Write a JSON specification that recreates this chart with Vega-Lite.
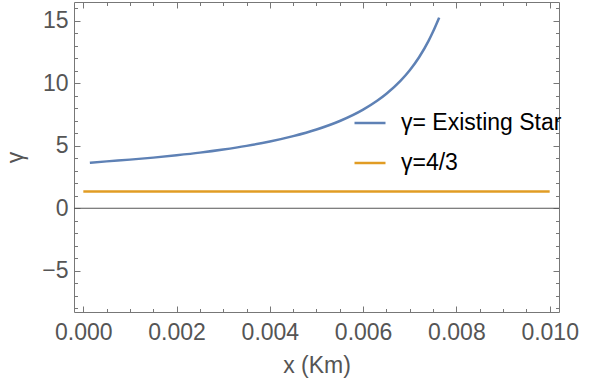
{
  "$schema": "https://vega.github.io/schema/vega-lite/v6.json",
  "width": 485,
  "height": 310,
  "autosize": "none",
  "padding": {"left": 74, "top": 2, "right": 42, "bottom": 71},
  "background": "white",
  "config": {
    "view": {"stroke": null},
    "font": "Liberation Sans",
    "axis": {"grid": false, "domainColor": "#777777", "tickColor": "#777777", "labelColor": "#555555", "titleColor": "#555555", "labelFont": "Liberation Sans", "titleFont": "Liberation Sans", "labelFontSize": 23, "titleFontSize": 23, "titleFontWeight": "normal", "domainWidth": 1, "tickWidth": 1}
  },
  "datasets": {
    "star": [
      {"x": 0.00014, "y": 3.64, "series": "γ= Existing Star"},
      {"x": 0.0005, "y": 3.75, "series": "γ= Existing Star"},
      {"x": 0.001, "y": 3.89, "series": "γ= Existing Star"},
      {"x": 0.0015, "y": 4.05, "series": "γ= Existing Star"},
      {"x": 0.002, "y": 4.24, "series": "γ= Existing Star"},
      {"x": 0.0025, "y": 4.45, "series": "γ= Existing Star"},
      {"x": 0.003, "y": 4.7, "series": "γ= Existing Star"},
      {"x": 0.0035, "y": 4.99, "series": "γ= Existing Star"},
      {"x": 0.004, "y": 5.34, "series": "γ= Existing Star"},
      {"x": 0.0045, "y": 5.77, "series": "γ= Existing Star"},
      {"x": 0.005, "y": 6.3, "series": "γ= Existing Star"},
      {"x": 0.0055, "y": 6.98, "series": "γ= Existing Star"},
      {"x": 0.006, "y": 7.89, "series": "γ= Existing Star"},
      {"x": 0.0063, "y": 8.6, "series": "γ= Existing Star"},
      {"x": 0.0065, "y": 9.16, "series": "γ= Existing Star"},
      {"x": 0.0068, "y": 10.19, "series": "γ= Existing Star"},
      {"x": 0.007, "y": 11.04, "series": "γ= Existing Star"},
      {"x": 0.0072, "y": 12.08, "series": "γ= Existing Star"},
      {"x": 0.0074, "y": 13.37, "series": "γ= Existing Star"},
      {"x": 0.0075, "y": 14.14, "series": "γ= Existing Star"},
      {"x": 0.00763, "y": 15.25, "series": "γ= Existing Star"}
    ],
    "newton": [
      {"x": 0.0, "y": 1.3333, "series": "γ=4/3"},
      {"x": 0.01, "y": 1.3333, "series": "γ=4/3"}
    ],
    "zero": [{"v": 0}]
  },
  "layer": [
    {
      "data": {"name": "star"},
      "mark": {"type": "line", "strokeWidth": 2.5, "interpolate": "monotone"},
      "encoding": {
        "x": {"field": "x", "type": "quantitative", "scale": {"domain": [-0.0002, 0.0102], "nice": false, "zero": false},
          "axis": {"orient": "bottom", "title": "x (Km)", "values": [0,0.0005,0.001,0.0015,0.002,0.0025,0.003,0.0035,0.004,0.0045,0.005,0.0055,0.006,0.0065,0.007,0.0075,0.008,0.0085,0.009,0.0095,0.01],
            "labelExpr": "round(datum.value*2000)%4==0 ? format(datum.value,'.3f') : ''",
            "tickSize": {"condition": {"test": "round(datum.value*2000)%4==0", "value": -6}, "value": -3.5},
            "labelPadding": 15, "titlePadding": 8, "labelFlush": false, "labelOverlap": false}},
        "y": {"field": "y", "type": "quantitative", "scale": {"domain": [-8.3, 16.5], "nice": false, "zero": false},
          "axis": {"orient": "left", "title": "γ", "titleAngle": -90, "values": [-8,-7,-6,-5,-4,-3,-2,-1,0,1,2,3,4,5,6,7,8,9,10,11,12,13,14,15,16],
            "labelExpr": "datum.value%5==0 ? format(datum.value,'d') : ''",
            "tickSize": {"condition": {"test": "datum.value%5==0", "value": -6}, "value": -3.5},
            "labelPadding": 12, "titlePadding": 14, "labelFlush": false, "labelOverlap": false}},
        "color": {"field": "series", "type": "nominal",
          "scale": {"domain": ["γ= Existing Star", "γ=4/3"], "range": ["#5E81B5", "#E19C24"]},
          "legend": {"title": null, "orient": "none", "legendX": 279, "legendY": 104, "padding": 0, "symbolType": "stroke", "symbolSize": 961, "symbolStrokeWidth": 2.5, "labelFontSize": 23, "labelColor": "#000000", "labelFont": "Liberation Sans", "labelOffset": 14, "labelLimit": 400, "rowPadding": 11}}
      }
    },
    {
      "data": {"name": "newton"},
      "mark": {"type": "line", "strokeWidth": 2.5},
      "encoding": {
        "x": {"field": "x", "type": "quantitative", "scale": {"domain": [-0.0002, 0.0102], "nice": false, "zero": false},
          "axis": {"orient": "top", "title": null, "labels": false, "values": [0,0.0005,0.001,0.0015,0.002,0.0025,0.003,0.0035,0.004,0.0045,0.005,0.0055,0.006,0.0065,0.007,0.0075,0.008,0.0085,0.009,0.0095,0.01],
            "tickSize": {"condition": {"test": "round(datum.value*2000)%4==0", "value": -6}, "value": -3.5}}},
        "y": {"field": "y", "type": "quantitative", "scale": {"domain": [-8.3, 16.5], "nice": false, "zero": false},
          "axis": {"orient": "right", "title": null, "labels": false, "values": [-8,-7,-6,-5,-4,-3,-2,-1,0,1,2,3,4,5,6,7,8,9,10,11,12,13,14,15,16],
            "tickSize": {"condition": {"test": "datum.value%5==0", "value": -6}, "value": -3.5}}},
        "color": {"field": "series", "type": "nominal"}
      }
    },
    {
      "data": {"name": "zero"},
      "mark": {"type": "rule", "color": "#555555", "strokeWidth": 1},
      "encoding": {
        "y": {"field": "v", "type": "quantitative", "scale": {"domain": [-8.3, 16.5], "nice": false, "zero": false}, "axis": null}
      }
    }
  ],
  "resolve": {"axis": {"x": "independent", "y": "independent"}}
}
